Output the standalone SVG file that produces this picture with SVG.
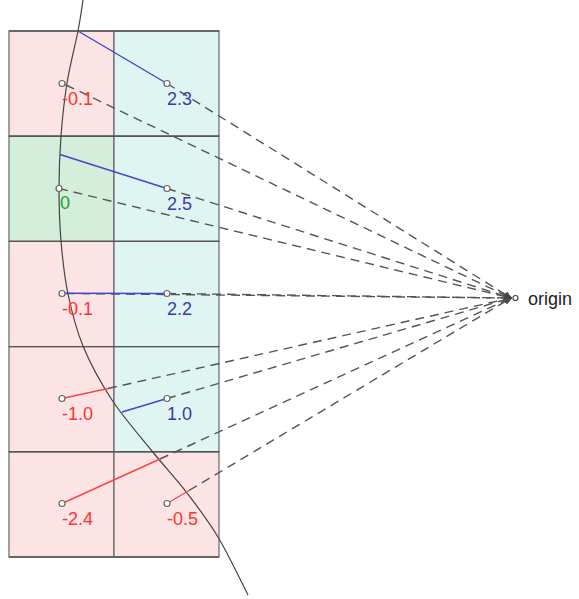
<svg xmlns="http://www.w3.org/2000/svg" width="579" height="599" viewBox="0 0 579 599">
<defs>
<marker id="arr" markerUnits="userSpaceOnUse" markerWidth="8" markerHeight="6" refX="7" refY="3" orient="auto">
<path d="M0,0 L7,3 L0,6" fill="none" stroke="#444" stroke-width="1.2"/>
</marker>
<style>
.pink{fill:#fde4e4}
.cyan{fill:#dff5f2}
.green{fill:#d3efdc}
.cell{stroke:#666;stroke-width:1.2}
.dash{fill:none;stroke:#555;stroke-width:1.4;stroke-dasharray:9,6;marker-end:url(#arr)}
.blue{stroke:#4444cc;stroke-width:1.4}
.red{stroke:#ff4444;stroke-width:1.4}
.pt{fill:#fff;stroke:#666;stroke-width:1.2}
text{font-family:"Liberation Sans",Arial,sans-serif;font-size:18px}
.tr{fill:#ff3333}
.tb{fill:#3a3aaa}
.tg{fill:#22a030}
</style>
</defs>
<rect width="579" height="599" fill="#fff"/>
<g id="cells">
<g id="cell-r0-left"><rect class="pink cell" x="9" y="31" width="105" height="105.2"/></g>
<g id="cell-r0-right"><rect class="cyan cell" x="114" y="31" width="105" height="105.2"/></g>
<g id="cell-r1-left"><rect class="green cell" x="9" y="136.2" width="105" height="105.2"/></g>
<g id="cell-r1-right"><rect class="cyan cell" x="114" y="136.2" width="105" height="105.2"/></g>
<g id="cell-r2-left"><rect class="pink cell" x="9" y="241.4" width="105" height="105.2"/></g>
<g id="cell-r2-right"><rect class="cyan cell" x="114" y="241.4" width="105" height="105.2"/></g>
<g id="cell-r3-left"><rect class="pink cell" x="9" y="346.6" width="105" height="105.2"/></g>
<g id="cell-r3-right"><rect class="cyan cell" x="114" y="346.6" width="105" height="105.2"/></g>
<g id="cell-r4-left"><rect class="pink cell" x="9" y="451.8" width="105" height="105.2"/></g>
<g id="cell-r4-right"><rect class="pink cell" x="114" y="451.8" width="105" height="105.2"/></g>
</g>
<g id="grid-lines" stroke="#555" stroke-width="1.4">
<line x1="9" y1="31" x2="219" y2="31"/>
<line x1="9" y1="136.2" x2="219" y2="136.2"/>
<line x1="9" y1="241.4" x2="219" y2="241.4"/>
<line x1="9" y1="346.6" x2="219" y2="346.6"/>
<line x1="9" y1="451.8" x2="219" y2="451.8"/>
<line x1="9" y1="557" x2="219" y2="557"/>
</g>
<g id="curve">
<path d="M83,0 C82.2,5.2 80.7,17.2 78,31 C75.3,44.8 69.8,65.5 67,83 C64.2,100.5 62.3,118.5 61,136 C59.7,153.5 59,170.5 59,188 C59,205.5 59.5,223.3 61,241 C62.5,258.7 64.3,276.5 68,294 C71.7,311.5 75.7,328.3 83,346 C90.3,363.7 100.5,382.5 112,400 C123.5,417.5 139.5,435.5 152,451 C164.5,466.5 176,478.7 187,493 C198,507.3 207.8,520 218,537 C228.2,554 243,585.3 248,595" fill="none" stroke="#444" stroke-width="1.2"/>
</g>
<g id="connectors">
<line class="dash" x1="66" y1="85" x2="511" y2="298"/>
<line class="dash" x1="167" y1="83.5" x2="511" y2="298"/>
<line class="dash" x1="59" y1="188.5" x2="511" y2="298"/>
<line class="dash" x1="167" y1="188.5" x2="511" y2="298"/>
<line class="dash" x1="66" y1="293.5" x2="511" y2="298"/>
<line class="dash" x1="167" y1="293.5" x2="511" y2="298"/>
<line class="dash" x1="108" y1="388.5" x2="511" y2="298"/>
<line class="dash" x1="167" y1="398.5" x2="511" y2="298"/>
<line class="dash" x1="160" y1="459" x2="511" y2="298"/>
<line class="dash" x1="189" y1="490.5" x2="511" y2="298"/>
<line class="blue" x1="78" y1="31" x2="167" y2="83.5"/>
<line class="blue" x1="60" y1="154.5" x2="167" y2="188.5"/>
<line class="blue" x1="64" y1="293.2" x2="167" y2="293.5"/>
<line class="blue" x1="122" y1="412" x2="167" y2="398.5"/>
<line class="red" x1="62" y1="83.5" x2="66" y2="85"/>
<line class="red" x1="62" y1="293.5" x2="66" y2="293.5"/>
<line class="red" x1="62" y1="398.5" x2="108" y2="388.5"/>
<line class="red" x1="62" y1="503.5" x2="160" y2="459"/>
<line class="red" x1="167" y1="503.5" x2="189" y2="490.5"/>
</g>
<g id="points">
<circle class="pt" cx="62" cy="83.5" r="3"/>
<circle class="pt" cx="167" cy="83.5" r="3"/>
<circle class="pt" cx="59" cy="188.5" r="3"/>
<circle class="pt" cx="167" cy="188.5" r="3"/>
<circle class="pt" cx="62" cy="293.5" r="3"/>
<circle class="pt" cx="167" cy="293.5" r="3"/>
<circle class="pt" cx="62" cy="398.5" r="3"/>
<circle class="pt" cx="167" cy="398.5" r="3"/>
<circle class="pt" cx="62" cy="503.5" r="3"/>
<circle class="pt" cx="167" cy="503.5" r="3"/>
</g>
<g id="labels">
<text class="tr" x="62" y="104.5">-0.1</text>
<text class="tb" x="167" y="104.5">2.3</text>
<text class="tg" x="60" y="208.5">0</text>
<text class="tb" x="167" y="209.5">2.5</text>
<text class="tr" x="62" y="314.5">-0.1</text>
<text class="tb" x="167" y="314.5">2.2</text>
<text class="tr" x="62" y="420">-1.0</text>
<text class="tb" x="167" y="420">1.0</text>
<text class="tr" x="62" y="525">-2.4</text>
<text class="tr" x="167" y="525">-0.5</text>
</g>
<g id="origin">
<circle cx="515.5" cy="298" r="2.5" fill="#fff" stroke="#444" stroke-width="1.2"/>
<text x="528" y="305" fill="#222">origin</text>
</g>
</svg>
